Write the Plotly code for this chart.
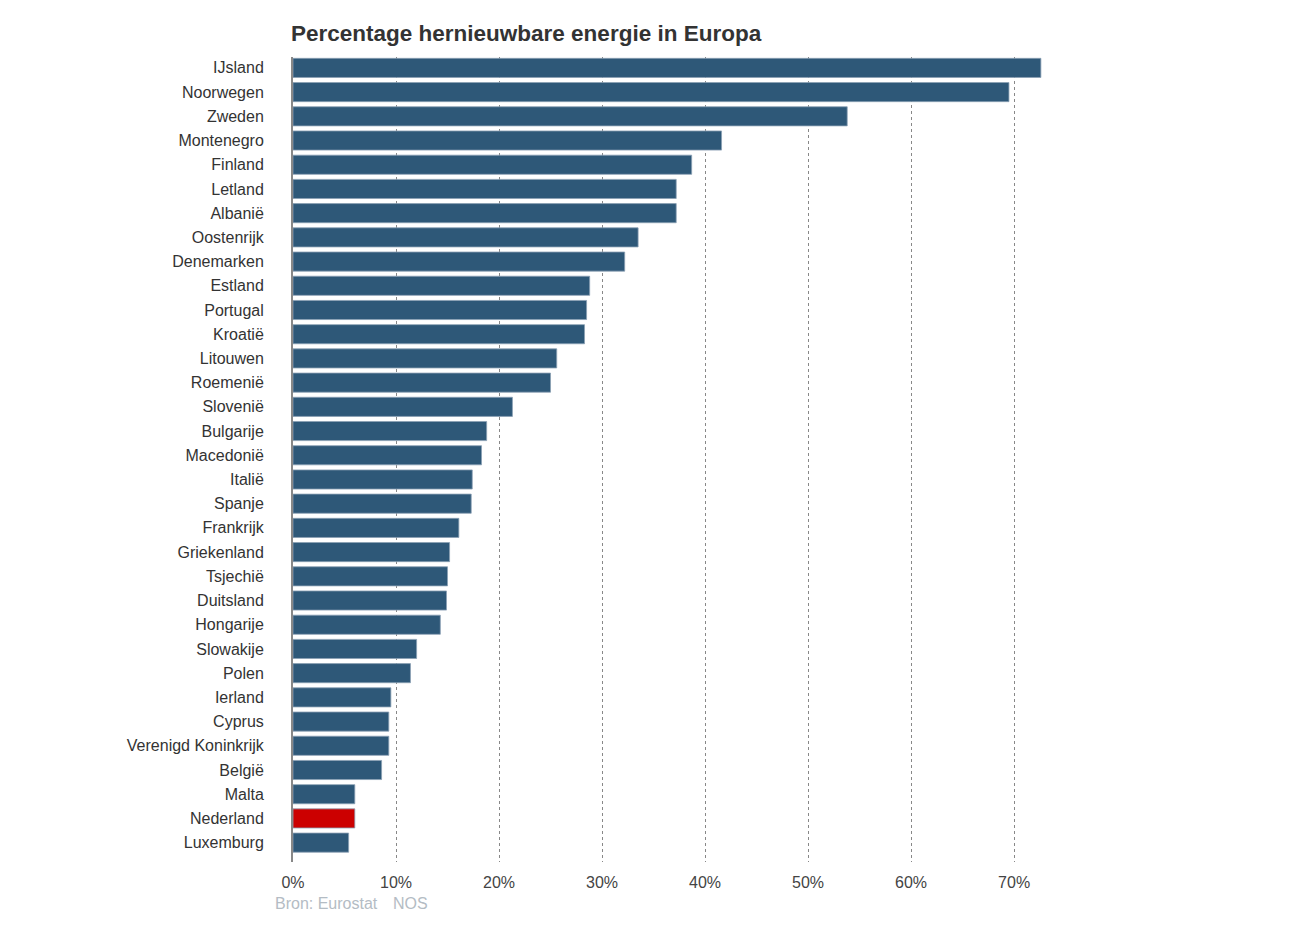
import plotly.graph_objects as go

# landen, van hoog naar laag
COUNTRIES = ["IJsland", "Noorwegen", "Zweden", "Montenegro", "Finland", "Letland",
             "Albanië", "Oostenrijk", "Denemarken", "Estland", "Portugal", "Kroatië",
             "Litouwen", "Roemenië", "Slovenië", "Bulgarije", "Macedonië", "Italië",
             "Spanje", "Frankrijk", "Griekenland", "Tsjechië", "Duitsland", "Hongarije",
             "Slowakije", "Polen", "Ierland", "Cyprus", "Verenigd Koninkrijk", "België",
             "Malta", "Nederland", "Luxemburg"]
SHARE = [72.6, 69.5, 53.8, 41.6, 38.7, 37.2,
         37.2, 33.5, 32.2, 28.8, 28.5, 28.3,
         25.6, 25.0, 21.3, 18.8, 18.3, 17.4,
         17.3, 16.1, 15.2, 15.0, 14.9, 14.3,
         12.0, 11.4, 9.5, 9.3, 9.3, 8.6,
         6.0, 6.0, 5.4]
HIGHLIGHT = "Nederland"
TICKS = [0, 10, 20, 30, 40, 50, 60, 70]

colors = ["#cc0000" if c == HIGHLIGHT else "#2e5878" for c in COUNTRIES]

fig = go.Figure(go.Bar(
    x=SHARE,
    y=COUNTRIES,
    orientation="h",
    marker=dict(color=colors, line=dict(color="#8aa0b4", width=0.8)),
    width=0.79,
))

# pagina heeft 8px body-marge, dus alles 8px naar links/boven
L, R, T, B = 285, 267, 49, 76
PW = 1304 - L - R
PH = 930 - T - B

fig.update_layout(
    width=1304, height=930,
    margin=dict(l=L, r=R, t=T, b=B),
    paper_bgcolor="white", plot_bgcolor="white",
    font=dict(family="Liberation Sans, Arial, sans-serif", size=16, color="#333333"),
    showlegend=False,
    title=dict(text="<b>Percentage hernieuwbare energie in Europa</b>",
               x=283 / 1304, xanchor="left", y=1 - 25 / 930, yanchor="middle",
               font=dict(size=22.5, color="#333333")),
    xaxis=dict(range=[0, 73], tickvals=TICKS, ticktext=[f"{t}%" for t in TICKS],
               showgrid=True, gridcolor="#888888", griddash="dot", gridwidth=1,
               zeroline=False, ticks="outside", ticklen=6, tickcolor="rgba(0,0,0,0)",
               tickfont=dict(size=16, color="#444444"), fixedrange=True),
    yaxis=dict(range=[len(COUNTRIES) - 0.2, -0.45], showline=True,
               linecolor="#888888", linewidth=2,
               ticks="", ticklabelstandoff=24, tickfont=dict(size=16, color="#333333"),
               showgrid=False),
)

src_y = (854 - 896) / PH
fig.add_annotation(text="Bron: Eurostat", x=(265 - L) / PW, y=src_y,
                   xref="paper", yref="paper", xanchor="left", yanchor="middle",
                   showarrow=False, font=dict(size=16, color="#b4bcc4"))
fig.add_annotation(text="NOS", x=(383 - L) / PW, y=src_y,
                   xref="paper", yref="paper", xanchor="left", yanchor="middle",
                   showarrow=False, font=dict(size=16, color="#b4bcc4"))

fig.write_html("out.html")
